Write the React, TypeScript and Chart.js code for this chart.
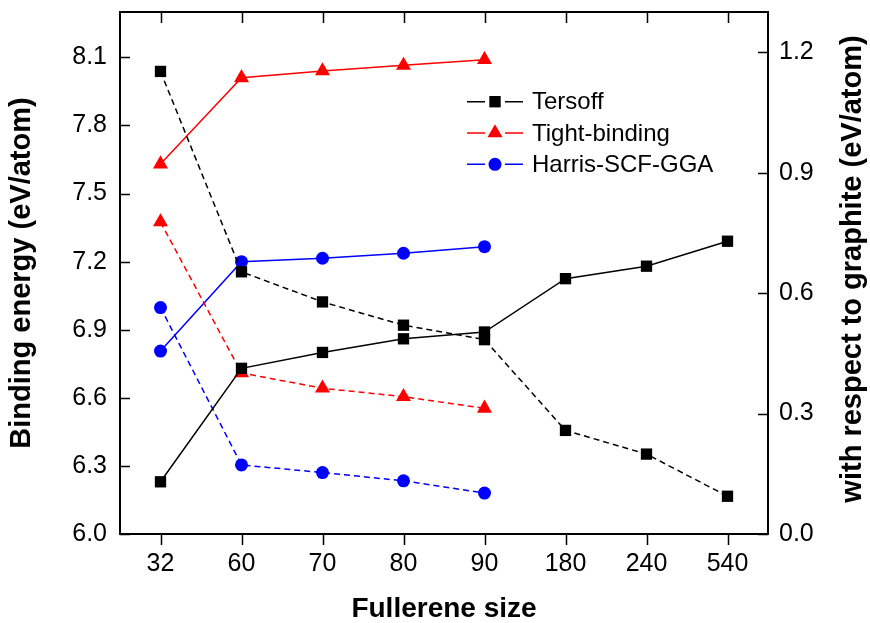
import React, { useEffect, useRef } from 'react';
import { Chart, registerables } from 'chart.js';

Chart.register(...registerables);

// Fullerene sizes along the category axis
const sizes = ['32', '60', '70', '80', '90', '180', '240', '540'];

// Binding energy (eV/atom), left axis
const tersoffBinding = [6.23, 6.73, 6.80, 6.86, 6.89, 7.125, 7.18, 7.29];
const tightBindingBinding = [7.63, 8.01, 8.04, 8.065, 8.09];
const harrisBinding = [6.806, 7.2, 7.215, 7.237, 7.266];

// Energy with respect to graphite (eV/atom), right axis
const tersoffRelative = [1.152, 0.653, 0.578, 0.52, 0.484, 0.258, 0.199, 0.094];
const tightBindingRelative = [0.777, 0.401, 0.363, 0.342, 0.313];
const harrisRelative = [0.564, 0.172, 0.153, 0.1325, 0.102];

// Tick values of the two value axes
const leftTickValues = [6.0, 6.3, 6.6, 6.9, 7.2, 7.5, 7.8, 8.1];
const rightTickValues = [0.0, 0.3, 0.6, 0.9, 1.2];

const FONT = '"Liberation Sans", Arial, sans-serif';
const BLACK = '#000000';
const RED = '#ff0000';
const BLUE = '#0000ff';

type MarkerKind = 'rect' | 'triangle' | 'circle';

function drawMarker(ctx: CanvasRenderingContext2D, kind: MarkerKind, x: number, y: number, color: string) {
  ctx.save();
  ctx.fillStyle = color;
  ctx.beginPath();
  if (kind === 'rect') {
    const h = 5.7;
    ctx.rect(x - h, y - h, 2 * h, 2 * h);
  } else if (kind === 'triangle') {
    const r = 8.7;
    ctx.moveTo(x, y - r);
    ctx.lineTo(x + r * Math.sin(Math.PI / 3), y + r / 2);
    ctx.lineTo(x - r * Math.sin(Math.PI / 3), y + r / 2);
    ctx.closePath();
  } else {
    ctx.arc(x, y, 6.5, 0, Math.PI * 2);
  }
  ctx.fill();
  ctx.restore();
}

const legendEntries: { label: string; color: string; marker: MarkerKind }[] = [
  { label: 'Tersoff', color: BLACK, marker: 'rect' },
  { label: 'Tight-binding', color: RED, marker: 'triangle' },
  { label: 'Harris-SCF-GGA', color: BLUE, marker: 'circle' },
];

// Frame, inward/outward tick marks, right-hand title and the line+marker legend
const framePlugin = {
  id: 'frameAndDecorations',
  afterDraw(chart: any) {
    const { ctx, chartArea } = chart;
    const { left, right, top, bottom } = chartArea;
    const xs = chart.scales.x;
    const yl = chart.scales.y;
    const yr = chart.scales.y1;
    const tick = 10;

    ctx.save();
    ctx.strokeStyle = BLACK;
    ctx.lineWidth = 1.5;
    ctx.beginPath();
    yl.ticks.forEach((t: any) => {
      const py = Math.round(yl.getPixelForValue(t.value)) + 0.5;
      ctx.moveTo(left, py);
      ctx.lineTo(left + tick, py);
    });
    yr.ticks.forEach((t: any) => {
      const py = Math.round(yr.getPixelForValue(t.value)) + 0.5;
      ctx.moveTo(right - tick, py);
      ctx.lineTo(right, py);
    });
    xs.ticks.forEach((_t: any, i: number) => {
      const px = Math.round(xs.getPixelForTick(i)) + 0.5;
      ctx.moveTo(px, bottom);
      ctx.lineTo(px, bottom + tick + 1);
      ctx.moveTo(px, top);
      ctx.lineTo(px, top + tick + 1);
    });
    ctx.stroke();

    ctx.lineWidth = 2;
    ctx.strokeRect(left, top, right - left, bottom - top);

    // right axis title, reading upward like the left one
    ctx.fillStyle = BLACK;
    ctx.font = `bold 29px ${FONT}`;
    ctx.textAlign = 'center';
    ctx.textBaseline = 'middle';
    ctx.translate(853, (top + bottom) / 2 - 4);
    ctx.rotate(-Math.PI / 2);
    ctx.fillText('with respect to graphite (eV/atom)', 0, 0);
    ctx.restore();

    // legend
    ctx.save();
    ctx.font = `24px ${FONT}`;
    ctx.textAlign = 'left';
    ctx.textBaseline = 'middle';
    const lx0 = 467;
    const lx1 = 523;
    const mx = (lx0 + lx1) / 2;
    const rowY = [101.7, 132.9, 164.3];
    legendEntries.forEach((e, i) => {
      const y = rowY[i];
      ctx.strokeStyle = e.color;
      ctx.lineWidth = 1.5;
      ctx.beginPath();
      ctx.moveTo(lx0, y);
      ctx.lineTo(mx - 10, y);
      ctx.moveTo(mx + 10, y);
      ctx.lineTo(lx1, y);
      ctx.stroke();
      drawMarker(ctx, e.marker, mx, y, e.color);
      ctx.fillStyle = BLACK;
      ctx.fillText(e.label, 532, y + 1);
    });
    ctx.restore();
  },
};

function series(label: string, data: number[], axis: string, color: string, style: string, radius: number, dashed: boolean) {
  return {
    label,
    data,
    yAxisID: axis,
    borderColor: color,
    backgroundColor: color,
    pointBackgroundColor: color,
    pointBorderColor: color,
    pointBorderWidth: 0,
    borderWidth: 1.5,
    borderDash: dashed ? [6, 4] : [],
    pointStyle: style,
    pointRadius: radius,
    tension: 0,
    fill: false,
  };
}

export default function App() {
  const canvasRef = useRef<HTMLCanvasElement | null>(null);

  useEffect(() => {
    const canvas = canvasRef.current;
    if (!canvas) return;
    const tickFont = { family: FONT, size: 25 };

    const chart = new Chart(canvas, {
      type: 'line',
      data: {
        labels: sizes,
        datasets: [
          series('Tersoff', tersoffBinding, 'y', BLACK, 'rect', 8, false),
          series('Tersoff (relative)', tersoffRelative, 'y1', BLACK, 'rect', 8, true),
          series('Tight-binding', tightBindingBinding, 'y', RED, 'triangle', 8.7, false),
          series('Tight-binding (relative)', tightBindingRelative, 'y1', RED, 'triangle', 8.7, true),
          series('Harris-SCF-GGA', harrisBinding, 'y', BLUE, 'circle', 6.5, false),
          series('Harris-SCF-GGA (relative)', harrisRelative, 'y1', BLUE, 'circle', 6.5, true),
        ] as any,
      },
      options: {
        animation: false,
        responsive: false,
        devicePixelRatio: 1,
        layout: { padding: { top: 12, left: 0, right: 0, bottom: 0 } },
        plugins: {
          legend: { display: false },
          tooltip: { enabled: false },
        },
        scales: {
          x: {
            type: 'category',
            offset: true,
            grid: { display: false, drawTicks: false },
            border: { display: false },
            ticks: { color: BLACK, font: tickFont, padding: 15, maxRotation: 0, autoSkip: false },
            title: {
              display: true,
              text: 'Fullerene size',
              color: BLACK,
              font: { family: FONT, size: 28, weight: 'bold', lineHeight: 1 },
              padding: { top: 0, bottom: 0 },
            },
            afterFit: (s: any) => { s.height = 89; s.paddingLeft = 0; s.paddingRight = 0; },
          },
          y: {
            position: 'left',
            min: 6.0,
            max: 8.3,
            afterBuildTicks: (s: any) => { s.ticks = leftTickValues.map((v) => ({ value: v })); },
            grid: { display: false, drawTicks: false },
            border: { display: false },
            ticks: { color: BLACK, font: tickFont, padding: 13, callback: (v: any) => Number(v).toFixed(1) },
            title: {
              display: true,
              text: 'Binding energy (eV/atom)',
              color: BLACK,
              font: { family: FONT, size: 29, weight: 'bold', lineHeight: 1.2 },
              padding: { top: 5, bottom: 0 },
            },
            afterFit: (s: any) => { s.width = 120; s.paddingTop = 0; s.paddingBottom = 0; },
          },
          y1: {
            position: 'right',
            min: 0,
            max: 1.3,
            afterBuildTicks: (s: any) => { s.ticks = rightTickValues.map((v) => ({ value: v })); },
            grid: { display: false, drawTicks: false },
            border: { display: false },
            ticks: { color: BLACK, font: tickFont, padding: 11, callback: (v: any) => Number(v).toFixed(1) },
            afterFit: (s: any) => { s.width = 102; s.paddingTop = 0; s.paddingBottom = 0; },
          },
        },
      } as any,
      plugins: [framePlugin],
    });

    return () => chart.destroy();
  }, []);

  return (
    <div style={{ position: 'fixed', left: 0, top: 0, width: 870, height: 623, background: '#ffffff' }}>
      <canvas ref={canvasRef} width={870} height={623} style={{ display: 'block' }} />
    </div>
  );
}
